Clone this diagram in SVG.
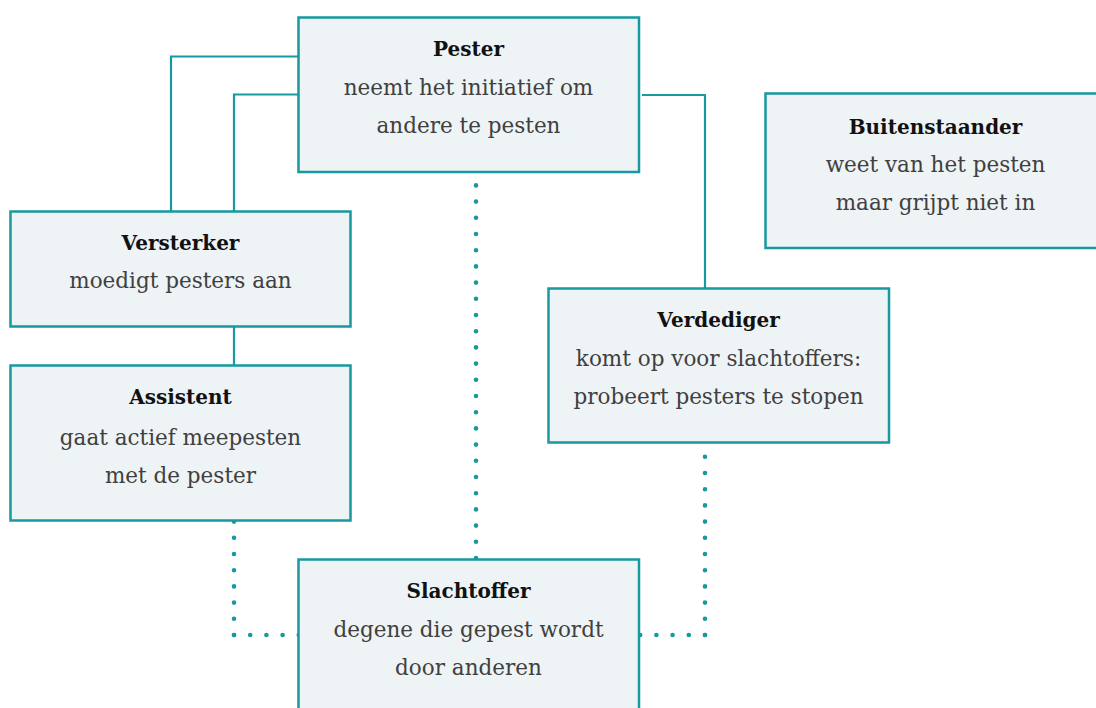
<svg xmlns="http://www.w3.org/2000/svg" width="1096" height="708" viewBox="0 0 1096 708">
<style>
.box{fill:#eef3f6;stroke:#17999f;stroke-width:2.5}
.ln{fill:none;stroke:#17999f;stroke-width:2.2}
.dot{fill:none;stroke:#17999f;stroke-width:4.6;stroke-linecap:round;stroke-dasharray:0 16.2}
.t{font-family:"DejaVu Serif","Liberation Serif",serif;font-size:20px;font-weight:bold;fill:#111;text-anchor:middle}
.b{font-family:"DejaVu Serif","Liberation Serif",serif;font-size:21.5px;fill:#404040;text-anchor:middle}
</style>
<rect width="1096" height="708" fill="#fff"/>
<g id="connectors">
<polyline class="ln" points="298,56.5 171,56.5 171,211"/>
<polyline class="ln" points="298,94.5 234,94.5 234,211"/>
<line class="ln" x1="234" y1="327" x2="234" y2="365"/>
<polyline class="ln" points="642,95 705,95 705,288"/>
<line class="dot" x1="476" y1="558" x2="476" y2="173"/>
<line class="dot" x1="234" y1="635" x2="234" y2="520"/>
<line class="dot" x1="234" y1="635" x2="299" y2="635"/>
<line class="dot" x1="705" y1="635" x2="705" y2="443"/>
<line class="dot" x1="705" y1="635" x2="640" y2="635"/>
</g>
<g id="pester">
<rect class="box" x="298.5" y="17.5" width="340.5" height="154.5"/>
<text class="t" x="468.5" y="55.5">Pester</text>
<text class="b" x="468.5" y="94.5">neemt het initiatief om</text>
<text class="b" x="468.5" y="133">andere te pesten</text>
</g>
<g id="versterker">
<rect class="box" x="10.5" y="211.5" width="340" height="115"/>
<text class="t" x="180.5" y="250">Versterker</text>
<text class="b" x="180.5" y="288">moedigt pesters aan</text>
</g>
<g id="assistent">
<rect class="box" x="10.5" y="365.5" width="340" height="155"/>
<text class="t" x="180.5" y="403.5">Assistent</text>
<text class="b" x="180.5" y="444.5">gaat actief meepesten</text>
<text class="b" x="180.5" y="482.5">met de pester</text>
</g>
<g id="slachtoffer">
<rect class="box" x="298.5" y="559.5" width="340.5" height="160"/>
<text class="t" x="468.5" y="597.5">Slachtoffer</text>
<text class="b" x="468.5" y="636.5">degene die gepest wordt</text>
<text class="b" x="468.5" y="675">door anderen</text>
</g>
<g id="verdediger">
<rect class="box" x="548.5" y="288.5" width="340.5" height="154"/>
<text class="t" x="718.5" y="326.5">Verdediger</text>
<text class="b" x="718.5" y="366">komt op voor slachtoffers:</text>
<text class="b" x="718.5" y="403.5">probeert pesters te stopen</text>
</g>
<g id="buitenstaander">
<rect class="box" x="765.5" y="93.5" width="345" height="154.5"/>
<text class="t" x="935.5" y="133.5">Buitenstaander</text>
<text class="b" x="935.5" y="171.5">weet van het pesten</text>
<text class="b" x="935.5" y="210">maar grijpt niet in</text>
</g>
</svg>
